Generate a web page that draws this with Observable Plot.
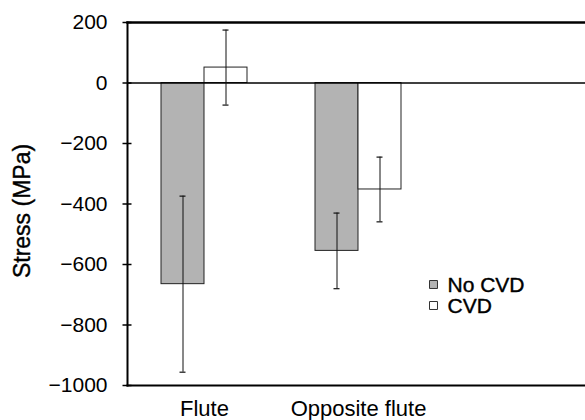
<!DOCTYPE html>
<html>
<head>
<meta charset="utf-8">
<script src="https://cdn.jsdelivr.net/npm/d3@7"></script>
<script src="https://cdn.jsdelivr.net/npm/@observablehq/plot@0.6"></script>
<style>
  html, body { margin: 0; padding: 0; background: #fff; }
  svg { display: block; }
</style>
</head>
<body>
<div id="chart"></div>
<script>
// Data
const groups = ["Flute", "Opposite flute"];
const series = ["No CVD", "CVD"];
const noCvd = [-665, -555];
const noCvdErr = [291, 125];
const cvd = [51, -352];
const cvdErr = [124, 107];
const yTicks = [200, 0, -200, -400, -600, -800, -1000];

const rows = groups.flatMap((g, i) => [
  {group: g, series: series[0], value: noCvd[i], err: noCvdErr[i]},
  {group: g, series: series[1], value: cvd[i], err: cvdErr[i]}
]);
const rowsNo = rows.filter(d => d.series === series[0]);
const rowsCvd = rows.filter(d => d.series === series[1]);
const fills = ["#b3b3b3", "#ffffff"];

const FONT = "Liberation Sans, Arial, sans-serif";
const half = 43;
const fmt = d => (d < 0 ? "\u2212" : "") + Math.abs(d);
const heavy = {stroke: "#000", strokeWidth: 0.4};

const legendMarks = series.flatMap((s, i) => [
  Plot.dot([s], {frameAnchor: "top-left", dx: 306, dy: 262 + 21 * i, symbol: "square", r: 4.5, fill: fills[i], stroke: "#333", strokeWidth: 1}),
  Plot.text([s], {frameAnchor: "top-left", dx: 320, dy: 263 + 21 * i, text: d => d, textAnchor: "start", lineAnchor: "middle", fontSize: 21, fill: "#000", ...heavy})
]);

const chart = Plot.plot({
  width: 585,
  height: 420,
  marginLeft: 127,
  marginRight: 0,
  marginTop: 22,
  marginBottom: 35,
  style: {fontFamily: FONT, fontSize: "21px", color: "#000", background: "#fff"},
  x: {domain: groups, range: [127, 435], paddingInner: 0.4416, paddingOuter: 0.2208, round: false, axis: null},
  y: {domain: [-1000, 200], axis: null},
  marks: [
    Plot.barY(rowsNo, {x: "group", y: "value", fill: fills[0], stroke: "#222", strokeWidth: 1, insetRight: half}),
    Plot.barY(rowsCvd, {x: "group", y: "value", fill: fills[1], stroke: "#222", strokeWidth: 1, insetLeft: half}),
    Plot.ruleY([0], {stroke: "#000", strokeWidth: 1.5}),
    // error bars
    Plot.ruleX(rowsNo, {x: "group", y1: d => d.value - d.err, y2: d => d.value + d.err, dx: -half / 2, stroke: "#111", strokeWidth: 1}),
    Plot.ruleX(rowsCvd, {x: "group", y1: d => d.value - d.err, y2: d => d.value + d.err, dx: half / 2, stroke: "#111", strokeWidth: 1}),
    Plot.tickY(rowsNo, {x: "group", y: d => d.value - d.err, insetLeft: half / 2 - 3, insetRight: half + half / 2 - 3, stroke: "#111", strokeWidth: 1.2}),
    Plot.tickY(rowsNo, {x: "group", y: d => d.value + d.err, insetLeft: half / 2 - 3, insetRight: half + half / 2 - 3, stroke: "#111", strokeWidth: 1.2}),
    Plot.tickY(rowsCvd, {x: "group", y: d => d.value - d.err, insetLeft: half + half / 2 - 3, insetRight: half / 2 - 3, stroke: "#111", strokeWidth: 1.2}),
    Plot.tickY(rowsCvd, {x: "group", y: d => d.value + d.err, insetLeft: half + half / 2 - 3, insetRight: half / 2 - 3, stroke: "#111", strokeWidth: 1.2}),
    // frame lines
    Plot.frame({anchor: "left", stroke: "#000", strokeWidth: 2}),
    Plot.frame({anchor: "top", stroke: "#000", strokeWidth: 2.5}),
    Plot.frame({anchor: "bottom", stroke: "#000", strokeWidth: 2}),
    // y axis ticks and labels
    Plot.axisY(yTicks, {anchor: "left", label: null, tickSize: 9, dx: 4.5, text: null, stroke: "#000", strokeWidth: 1.5}),
    Plot.axisY(yTicks, {anchor: "left", label: null, tickSize: 0, tickPadding: 20, tickFormat: fmt, fontSize: 21, fill: "#000", ...heavy}),
    // x axis labels
    Plot.axisX(groups, {anchor: "bottom", label: null, tickSize: 0, tickPadding: 15, fontSize: 22, fill: "#000", ...heavy}),
    // y label
    Plot.text(["Stress (MPa)"], {frameAnchor: "left", textAnchor: "middle", lineAnchor: "middle", rotate: -90, dx: -105, dy: 7, fontSize: 23, fill: "#000", ...heavy}),
    // legend
    ...legendMarks
  ]
});
document.getElementById("chart").appendChild(chart);
</script>
</body>
</html>
